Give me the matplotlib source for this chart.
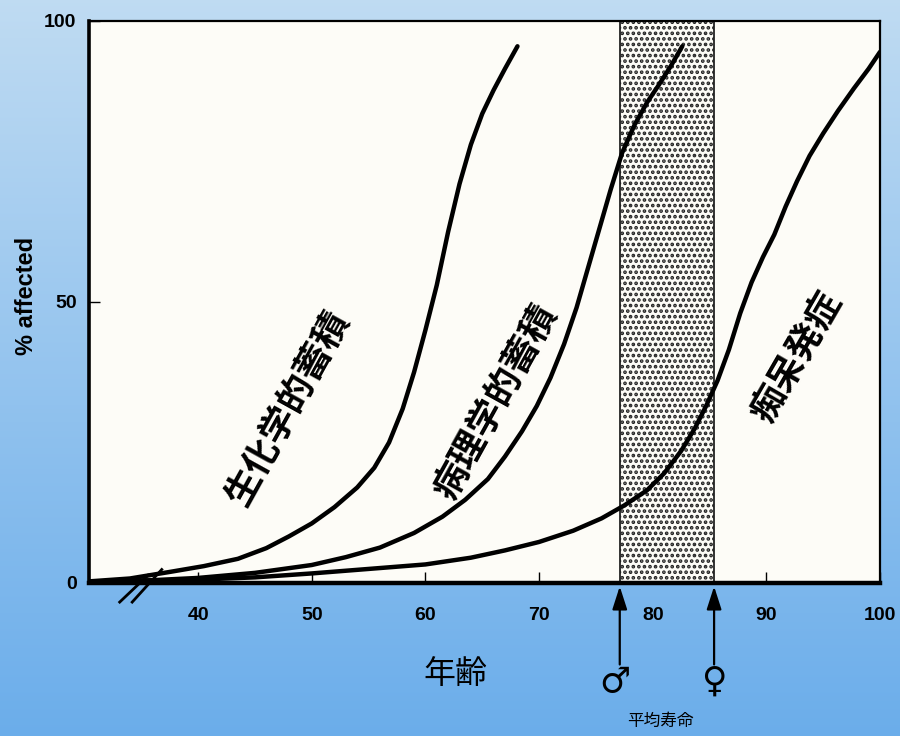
import numpy as np
import matplotlib
matplotlib.use("Agg")
from matplotlib import pyplot as plt

plt.rcParams['font.family'] = ['Liberation Sans', 'Noto Sans CJK JP', 'DejaVu Sans']
plt.rcParams['hatch.linewidth'] = 1.8
plt.rcParams['hatch.color'] = '#444444'

# curves (age, % affected)
bio_age = [30.5, 34, 37.6, 40.5, 43.5, 46, 48, 50, 52, 54, 55.5, 56.8, 58, 59,
           60, 61, 62, 63, 64, 65, 66, 67, 68.1]
bio_pct = [0.3, 0.8, 2.0, 3.0, 4.3, 6.2, 8.3, 10.6, 13.5, 17.0, 20.5, 25.0, 31.0, 37.5,
           45.0, 53.0, 62.5, 71.0, 78.0, 83.5, 87.7, 91.5, 95.5]

path_age = [30.5, 36, 40, 45, 50, 53, 56, 59, 61.5, 63.5, 65.5, 67, 68.5, 69.8, 71,
            72.2, 73.3, 74.3, 75.3, 76.3, 77.3, 78.4, 79.5, 80.5, 81.6, 82.6]
path_pct = [0.2, 0.5, 0.9, 1.8, 3.2, 4.6, 6.3, 8.9, 11.8, 14.8, 18.5, 22.5, 27.0, 31.5,
            36.5, 42.5, 49.0, 56.0, 63.0, 70.0, 76.5, 81.5, 85.5, 88.5, 92.0, 95.5]

dem_age = [30.5, 40, 45, 50, 55, 60, 64, 67, 70, 73, 75.5, 77.5, 79.5, 81, 82.5, 83.7,
           84.7, 85.7, 86.7, 87.7, 88.7, 89.7, 90.7, 91.7, 92.7, 93.8, 95, 96.3, 97.7,
           99, 100]
dem_pct = [0.2, 0.6, 1.0, 1.7, 2.5, 3.3, 4.5, 5.8, 7.3, 9.3, 11.5, 13.8, 16.5, 19.5,
           23.5, 27.5, 31.5, 36.0, 41.5, 48.0, 53.5, 58.0, 62.0, 67.0, 71.5, 76.0,
           80.0, 84.0, 88.0, 91.5, 94.5]

curve_labels = ['生化学的蓄積', '病理学的蓄積', '痴呆発症']
life_male, life_female = 77.1, 85.4
xticks = [40, 50, 60, 70, 80, 90, 100]
yticks = [0, 50, 100]

fig = plt.figure(figsize=(9, 7.36), dpi=100)

# blue gradient background
bg = fig.add_axes([0, 0, 1, 1])
grad = np.linspace(0, 1, 256).reshape(-1, 1)
top = np.array([0.75, 0.86, 0.95])
bot = np.array([0.42, 0.68, 0.92])
img = top + (bot - top) * grad[:, :, None]
bg.imshow(img, aspect='auto', extent=[0, 1, 0, 1])
bg.axis('off')

ax = fig.add_axes([0.0989, 0.2079, 0.8789, 0.7636])
ax.set_facecolor('#fdfcf7')

ax.axvspan(life_male, life_female, facecolor='#fdfcf7', edgecolor='#222222',
           hatch='...', lw=1.3, zorder=3)

for a, p in [(bio_age, bio_pct), (path_age, path_pct), (dem_age, dem_pct)]:
    ax.plot(a, p, color='black', lw=3.2, solid_capstyle='round',
            solid_joinstyle='round', zorder=4)

ax.set_xlim(30.4, 100)
ax.set_ylim(0, 100)
ax.set_xticks(xticks)
ax.set_yticks(yticks)
ax.tick_params(axis='x', direction='in', length=8, width=1, pad=17, labelsize=14)
ax.tick_params(axis='y', direction='in', length=8, width=1, pad=9, labelsize=14)
for t in ax.get_xticklabels() + ax.get_yticklabels():
    t.set_fontweight('bold')

for side, w in [('left', 2.6), ('bottom', 3.2), ('top', 1.6), ('right', 1.6)]:
    ax.spines[side].set_linewidth(w)
    ax.spines[side].set_zorder(5)

ax.set_ylabel('% affected', fontsize=17, fontweight='bold')
ax.yaxis.set_label_coords(-0.064, 0.51)
ax.set_xlabel('年齢', fontsize=23)
ax.xaxis.set_label_coords(0.463, -0.137)

# rotated curve labels
ax.text(48.1, 31.0, curve_labels[0], rotation=61, fontsize=26, ha='center',
        va='center', fontweight='bold', zorder=4)
ax.text(66.4, 32.0, curve_labels[1], rotation=61, fontsize=26, ha='center',
        va='center', fontweight='bold', zorder=4)
ax.text(92.8, 40.0, curve_labels[2], rotation=60, fontsize=26, ha='center',
        va='center', fontweight='bold', zorder=4)

# axis break marks
ax.plot([33.1, 35.6], [-3.4, 1.4], color='black', lw=2, clip_on=False, zorder=6)
ax.plot([34.2, 36.8], [-3.4, 2.4], color='black', lw=2, clip_on=False, zorder=6)

# life expectancy arrows
for xv in (life_male, life_female):
    ax.annotate('', xy=(xv, -0.6), xytext=(xv, -14.5), annotation_clip=False,
                arrowprops=dict(arrowstyle='-|>,head_length=1.4,head_width=0.45',
                                color='black', lw=1.6, shrinkA=0, shrinkB=0))
ax.text(life_male - 0.4, -17.7, '♂', fontsize=25, ha='center', va='center',
        family=['DejaVu Sans'])
ax.text(life_female, -17.5, '♀', fontsize=25, ha='center', va='center',
        family=['DejaVu Sans'])
ax.text((life_male + life_female) / 2 - 0.6, -24.6, '平均寿命', fontsize=12,
        ha='center', va='center')

fig.savefig('out.png', dpi=100)
